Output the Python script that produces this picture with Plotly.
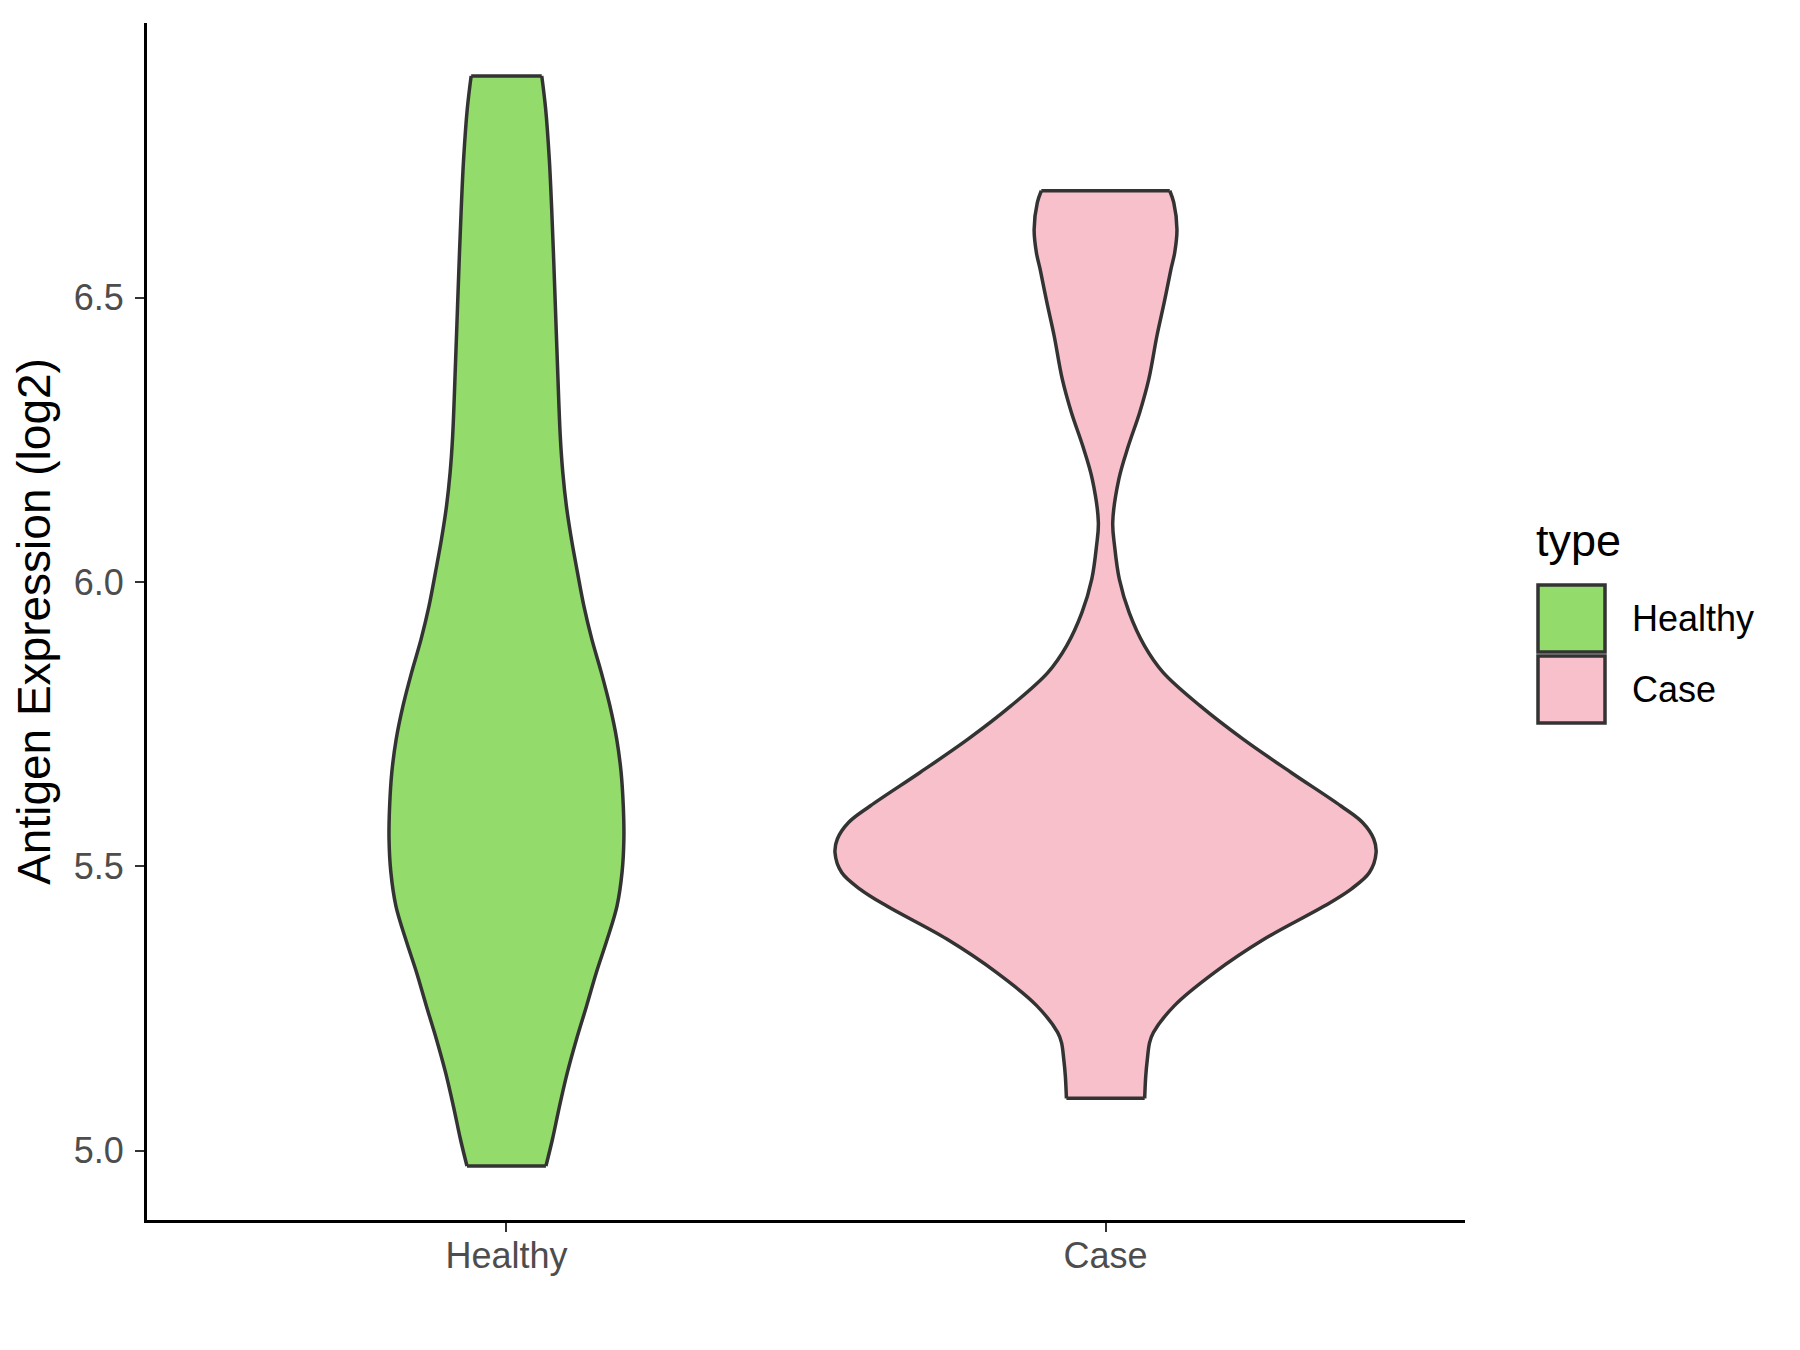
import plotly.graph_objects as go

# violin outlines: y level (log2) and half width (x units)
healthy_y = [4.973, 5.020, 5.078, 5.138, 5.196, 5.254, 5.314, 5.372, 5.430,
             5.490, 5.548, 5.606, 5.666, 5.724, 5.782, 5.841, 5.899, 5.957,
             6.017, 6.075, 6.134, 6.193, 6.257, 6.392, 6.480, 6.568, 6.656,
             6.744, 6.832, 6.890]
healthy_hw = [0.0659, 0.0768, 0.0885, 0.1018, 0.1169, 0.1336, 0.1503,
              0.1683, 0.1845, 0.1930, 0.1960, 0.1950, 0.1913, 0.1840,
              0.1727, 0.1583, 0.1426, 0.1294, 0.1185, 0.1085, 0.100, 0.094,
              0.0898, 0.0848, 0.0818, 0.0788, 0.0755, 0.0715, 0.0654, 0.0589]

case_y = [5.092, 5.131, 5.161, 5.190, 5.208, 5.255, 5.313, 5.372, 5.430,
          5.460, 5.489, 5.524, 5.548, 5.577, 5.606, 5.665, 5.724, 5.782,
          5.841, 5.888, 5.946, 6.005, 6.064, 6.105, 6.181, 6.239, 6.298,
          6.357, 6.433, 6.492, 6.550, 6.579, 6.620, 6.667, 6.688]
case_hw = [0.0653, 0.0671, 0.0698, 0.0735, 0.080, 0.115, 0.1816, 0.265,
           0.365, 0.410, 0.4404, 0.4516, 0.4477, 0.429, 0.393, 0.3097,
           0.229, 0.158, 0.096, 0.0648, 0.0395, 0.023, 0.015, 0.012, 0.0222,
           0.038, 0.057, 0.0723, 0.0858, 0.098, 0.1092, 0.1154, 0.1192,
           0.1139, 0.1072]

groups = ["Healthy", "Case"]
fills = ["#93DB6B", "#F7C0CB"]
y_ticks = [5.0, 5.5, 6.0, 6.5]

OUTLINE = "#333333"
FONT = "Liberation Sans, Arial, sans-serif"

W, H = 1800, 1350
L, R, T, B = 139, 343, 15, 138
PAGE_OFF = 8   # the html body margin


def px_x(x):
    return (x - PAGE_OFF - L) / (W - L - R)


def px_y(y):
    return (H - B - (y - PAGE_OFF)) / (H - T - B)


fig = go.Figure()
for i, (name, ys, hws) in enumerate([("Healthy", healthy_y, healthy_hw),
                                     ("Case", case_y, case_hw)]):
    pos = i + 1
    right = [pos + h for h in hws]
    left = [pos - h for h in hws]
    # filled body
    fig.add_trace(go.Scatter(
        x=right + left[::-1] + [right[0]],
        y=list(ys) + list(ys)[::-1] + [ys[0]],
        mode="lines", fill="toself", fillcolor=fills[i],
        line=dict(width=0),
        name=name, showlegend=False, hoverinfo="skip"))
    # outline: curved sides, flat trimmed ends
    ox = right + [None] + left + [None] + [left[-1], right[-1]] + [None] + [left[0], right[0]]
    oy = list(ys) + [None] + list(ys) + [None] + [ys[-1], ys[-1]] + [None] + [ys[0], ys[0]]
    fig.add_trace(go.Scatter(
        x=ox, y=oy, mode="lines", connectgaps=False,
        line=dict(color=OUTLINE, width=3.5, shape="spline", smoothing=1.0),
        showlegend=False, hoverinfo="skip"))

fig.update_layout(
    width=W, height=H,
    margin=dict(l=L, r=R, t=T, b=B),
    plot_bgcolor="white", paper_bgcolor="white",
    font=dict(family=FONT, color="#4D4D4D"),
    showlegend=False,
)
fig.update_xaxes(
    range=[0.4, 2.6], tickvals=[1, 2], ticktext=groups,
    showgrid=False, zeroline=False,
    showline=True, linecolor="black", linewidth=3,
    ticks="outside", ticklen=9, tickwidth=2, tickcolor=OUTLINE,
    tickfont=dict(size=36, color="#4D4D4D"), ticklabelstandoff=-7,
)
fig.update_yaxes(
    range=[4.878, 6.983], tickvals=y_ticks,
    ticktext=["%.1f" % v for v in y_ticks],
    showgrid=False, zeroline=False,
    showline=True, linecolor="black", linewidth=3,
    ticks="outside", ticklen=9, tickwidth=2, tickcolor=OUTLINE,
    tickfont=dict(size=36, color="#4D4D4D"), ticklabelstandoff=4,
    title=dict(text="Antigen Expression (log2)",
               font=dict(size=46, color="black"), standoff=12),
)

# ggplot-style legend at the right
fig.add_annotation(x=px_x(1534), y=px_y(540), xref="paper", yref="paper",
                   text="type", showarrow=False, xanchor="left",
                   yanchor="middle", font=dict(size=45, color="black"))
key_tops = [585, 656]
for i, name in enumerate(groups):
    top = key_tops[i]
    fig.add_shape(type="rect", xref="paper", yref="paper",
                  x0=px_x(1538), x1=px_x(1605),
                  y0=px_y(top + 67), y1=px_y(top),
                  fillcolor=fills[i], line=dict(color=OUTLINE, width=3.5))
    fig.add_annotation(x=px_x(1630), y=px_y(top + 33), xref="paper",
                       yref="paper", text=name, showarrow=False,
                       xanchor="left", yanchor="middle",
                       font=dict(size=36, color="black"))

fig.write_html("out.html")
